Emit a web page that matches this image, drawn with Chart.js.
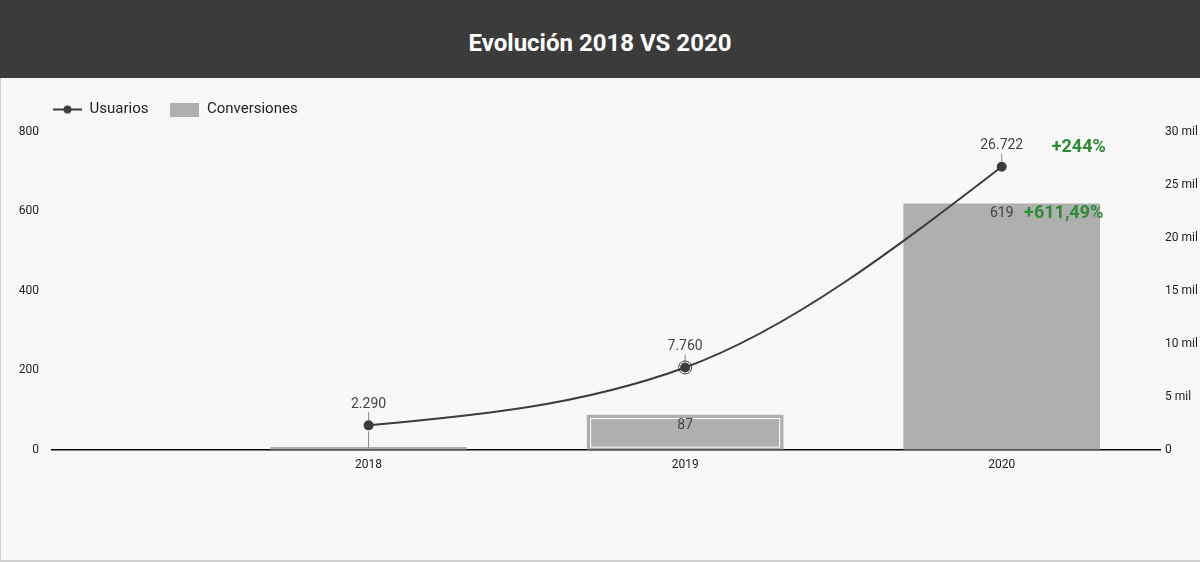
<!DOCTYPE html>
<html>
<head>
<meta charset="utf-8">
<script src="https://cdn.jsdelivr.net/npm/chart.js@4.4.1/dist/chart.umd.min.js"></script>
<style>
  html, body { margin: 0; padding: 0; background: #f8f8f8; font-family: Roboto, sans-serif; }
  .titulo {
    height: 78px; background: #3b3b3b; color: #fff;
    font: bold 24px Roboto, sans-serif; text-align: center; line-height: 86px;
  }
  .tarjeta {
    position: relative; width: 1199px; height: 482px; background: #f8f8f8;
    border-left: 1px solid #cfcfcf; border-bottom: 2px solid #cfcfcf;
  }
</style>
</head>
<body>
<div class="titulo">Evolución 2018 VS 2020</div>
<div class="tarjeta"><canvas id="grafico"></canvas></div>
<script>
const years = [2018, 2019, 2020];
const usuarios = [2290, 7760, 26722];
const conversiones = [6, 87, 619];
const variacionUsuarios = "+244%";
const variacionConversiones = "+611,49%";
const ticksIzq = [0, 200, 400, 600, 800];
const ticksDer = [0, 5000, 10000, 15000, 20000, 25000, 30000];

const GRIS = "#3c3c3c";
const BARRA = "#afafaf";
const VERDE = "#2e8b36";

const miles = (n) => String(n).replace(/\B(?=(\d{3})+(?!\d))/g, ".");

// iconos de la leyenda
function icono(tipo) {
  const c = document.createElement("canvas");
  c.width = 29; c.height = 14;
  const g = c.getContext("2d");
  if (tipo === "linea") {
    g.strokeStyle = GRIS; g.lineWidth = 2;
    g.beginPath(); g.moveTo(0, 7); g.lineTo(29, 7); g.stroke();
    g.fillStyle = GRIS;
    g.beginPath(); g.arc(14.5, 7, 4, 0, Math.PI * 2); g.fill();
  } else {
    g.fillStyle = BARRA; g.fillRect(0, 0, 29, 14);
  }
  return c;
}

// curva monotona tipo d3 (la de Chart.js arranca siguiendo la cuerda)
const curvaSuave = {
  id: "curvaSuave",
  beforeDatasetDraw(chart, args) {
    if (args.index !== 0) return;
    const pts = args.meta.data;
    const n = pts.length;
    if (n < 3) return;
    const s = [], h = [];
    for (let i = 0; i < n - 1; i++) {
      h[i] = pts[i + 1].x - pts[i].x;
      s[i] = (pts[i + 1].y - pts[i].y) / h[i];
    }
    const m = new Array(n);
    for (let i = 1; i < n - 1; i++) {
      const p = (s[i - 1] * h[i] + s[i] * h[i - 1]) / (h[i - 1] + h[i]);
      m[i] = (Math.sign(s[i - 1]) + Math.sign(s[i])) *
        Math.min(Math.abs(s[i - 1]), Math.abs(s[i]), 0.5 * Math.abs(p)) || 0;
    }
    m[0] = (3 * s[0] - m[1]) / 2;
    m[n - 1] = (3 * s[n - 2] - m[n - 2]) / 2;
    for (let i = 0; i < n; i++) {
      const pt = pts[i];
      const dl = i > 0 ? h[i - 1] / 3 : 0;
      const dr = i < n - 1 ? h[i] / 3 : 0;
      pt.cp1x = pt.x - dl; pt.cp1y = pt.y - dl * m[i];
      pt.cp2x = pt.x + dr; pt.cp2y = pt.y + dr * m[i];
    }
    args.meta.dataset._pointsUpdated = true;
  }
};

const etiquetas = {
  id: "etiquetas",
  beforeInit(chart) {
    // un poco mas de aire entre leyenda y grafico
    const fit = chart.legend.fit;
    chart.legend.fit = function () {
      fit.call(this);
      this.height += 5;
    };
  },
  afterLayout(chart) {
    // mover la leyenda para alinearla con el eje
    chart.legend.left += 30;
    chart.legend.right += 30;
  },
  afterDatasetsDraw(chart) {
    const ctx = chart.ctx;
    ctx.save();
    ctx.textAlign = "center";
    ctx.textBaseline = "middle";

    // barras
    const barras = chart.getDatasetMeta(1).data;
    barras.forEach((b, i) => {
      if (i === 1) {
        ctx.strokeStyle = "#fff";
        ctx.lineWidth = 1;
        ctx.strokeRect(b.x - b.width / 2 + 3.5, b.y + 3.5, b.width - 7, b.base - b.y - 6);
      }
      if (i === 0) return;
      ctx.fillStyle = "#444";
      ctx.font = "14px Roboto";
      ctx.fillText(conversiones[i], b.x, b.y + 10);
    });

    // puntos de la linea
    const puntos = chart.getDatasetMeta(0).data;
    puntos.forEach((p, i) => {
      ctx.strokeStyle = "#888";
      ctx.lineWidth = 1;
      ctx.beginPath(); ctx.moveTo(p.x, p.y - 13); ctx.lineTo(p.x, p.y - 5); ctx.stroke();
      if (i === 0) {
        ctx.beginPath(); ctx.moveTo(p.x, p.y + 6); ctx.lineTo(p.x, barras[0].base); ctx.stroke();
      }
      if (i === 1) {
        ctx.strokeStyle = GRIS;
        ctx.beginPath(); ctx.arc(p.x, p.y, 6.5, 0, Math.PI * 2); ctx.stroke();
      }
      ctx.fillStyle = "#444";
      ctx.font = "14px Roboto";
      ctx.fillText(miles(usuarios[i]), p.x, p.y - 21);
    });

    // variaciones
    const ult = puntos[puntos.length - 1];
    const ultBarra = barras[barras.length - 1];
    ctx.fillStyle = VERDE;
    ctx.font = "bold 18px Roboto";
    ctx.fillText(variacionUsuarios, ult.x + 77, ult.y - 19);
    ctx.fillText(variacionConversiones, ultBarra.x + 62, ultBarra.y + 10);
    ctx.restore();
  }
};

new Chart(document.getElementById("grafico"), {
  data: {
    datasets: [
      {
        type: "line",
        label: "Usuarios",
        data: years.map((y, i) => ({ x: y, y: usuarios[i] })),
        yAxisID: "yDer",
        borderColor: GRIS,
        backgroundColor: GRIS,
        borderWidth: 2,
        pointRadius: 4,
        pointBackgroundColor: GRIS,
        tension: 0.4,
        order: 0
      },
      {
        type: "bar",
        label: "Conversiones",
        data: years.map((y, i) => ({ x: y, y: conversiones[i] })),
        yAxisID: "yIzq",
        backgroundColor: BARRA,
        barThickness: 196,
        order: 1
      }
    ]
  },
  options: {
    responsive: true,
    maintainAspectRatio: false,
    animation: false,
    layout: { padding: { top: 2, bottom: 80, right: 0, left: 0 } },
    plugins: {
      tooltip: { enabled: false },
      legend: {
        position: "top",
        align: "start",
        labels: {
          color: "#222",
          font: { family: "Roboto", size: 15 },
          usePointStyle: true,
          pointStyleWidth: 29,
          boxHeight: 14,
          padding: 22,
          generateLabels(chart) {
            const items = Chart.defaults.plugins.legend.labels.generateLabels(chart);
            items.forEach((it, i) => { it.pointStyle = icono(i === 0 ? "linea" : "caja"); });
            return items;
          }
        }
      }
    },
    scales: {
      x: {
        type: "linear",
        offset: false,
        min: 2017,
        max: 2020.5,
        grid: { display: false, drawTicks: false },
        border: { display: true, color: "#000", width: 1.5 },
        afterBuildTicks(scale) { scale.ticks = years.map((v) => ({ value: v })); },
        ticks: {
          padding: 8,
          color: "#222",
          font: { family: "Roboto", size: 12 },
          callback: (v) => String(v)
        }
      },
      yIzq: {
        position: "left",
        min: 0,
        max: 800,
        grid: { display: false, drawTicks: false },
        border: { display: false },
        afterBuildTicks(scale) { scale.ticks = ticksIzq.map((v) => ({ value: v })); },
        afterFit(scale) { scale.width = 51; },
        ticks: { padding: 13, color: "#222", font: { family: "Roboto", size: 12 } }
      },
      yDer: {
        position: "right",
        min: 0,
        max: 30000,
        grid: { display: false, drawTicks: false },
        border: { display: false },
        afterBuildTicks(scale) { scale.ticks = ticksDer.map((v) => ({ value: v })); },
        afterFit(scale) { scale.width = 40; },
        ticks: {
          padding: 5,
          color: "#222",
          font: { family: "Roboto", size: 12 },
          callback: (v) => (v === 0 ? "0" : v / 1000 + " mil")
        }
      }
    }
  },
  plugins: [curvaSuave, etiquetas]
});
</script>
</body>
</html>
